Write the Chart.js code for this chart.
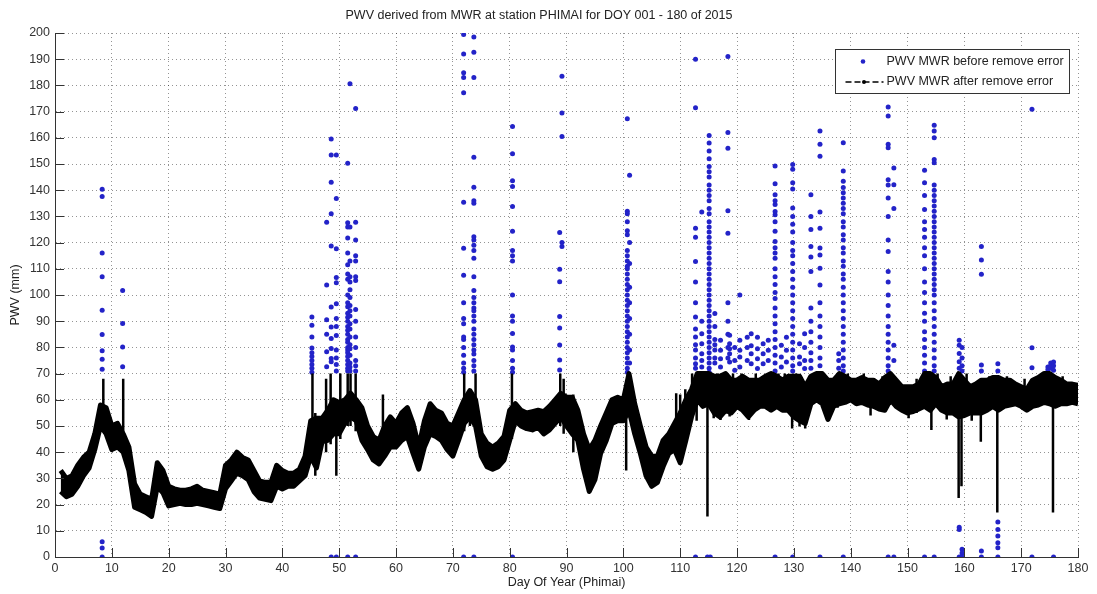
<!DOCTYPE html>
<html>
<head>
<meta charset="utf-8">
<title>PWV MWR PHIMAI</title>
<script src="https://cdn.jsdelivr.net/npm/chart.js@4.4.1/dist/chart.umd.min.js"></script>
<style>
  html, body { margin: 0; padding: 0; background: #fff; }
  #wrap { width: 1097px; height: 594px; }
</style>
</head>
<body>
<div id="wrap"><canvas id="pwv" width="1097" height="594"></canvas></div>
<script>
// PWV after error removal: lower / upper edge of the black band, one value per day (day 1 .. 180)
const firstDay = 1;
const bandLow = [
  25, 23, 24, 27, 31, 34, 41, 50, 47, 41,
  42, 40, 33, 19, 18, 17, 15.5, 27, 24.5, 19.5,
  20, 20.5, 20, 20, 20.5, 20, 19.5, 19, 18.5, 26,
  29, 32, 31, 29.5, 25, 22.5, 22, 21.5, 27, 26,
  27, 27, 29, 31, 38.5, 34, 44, 44.5, 47, 47,
  51, 53.5, 52, 44.5, 41, 37, 35.5, 38.5, 42, 42,
  44.5, 46, 39.5, 33.5, 42, 47, 46, 44.5, 41, 38.5,
  44.5, 51, 53.5, 50, 38.5, 34.5, 33.5, 34.5, 37, 44.5,
  52, 50, 49, 48.5, 49.5, 47, 48.5, 51, 53.5, 50,
  47, 44.5, 33.5, 25, 29.5, 39.5, 44.5, 51, 52, 52,
  56, 47, 39.5, 31, 27, 28.5, 34.5, 39.5, 41, 36,
  44.5, 53.5, 60, 57.5, 58.5, 55, 53.5, 56, 55, 57.5,
  56, 53.5, 56, 57.5, 57.5, 56, 57.5, 56, 56, 53.5,
  52, 51, 58.5, 60, 58.5, 52.5, 57.5, 58.5, 59, 60,
  58.5, 59, 58, 57.5, 56.5, 56, 60, 57.5, 56, 55,
  55.5, 56.5, 57.5, 56, 58.5, 56, 55, 55, 53.5, 54,
  55, 55, 55, 56, 57.5, 56, 57.5, 58, 58.5, 57.5,
  56, 57.5, 58, 59, 58.5, 57.5, 58.5, 58.5, 59, 58.5
];
const bandHigh = [
  33, 30, 31, 35, 38, 40, 47, 58, 57, 50,
  51, 47, 42, 28, 24, 23, 22, 36, 33, 27,
  26, 25.5, 25.5, 26, 27, 25.5, 25, 24.5, 24, 35,
  37, 40, 38, 37, 33, 29, 28.5, 28.5, 35, 33,
  32, 32, 33.5, 38.5, 52, 53, 53, 56, 60, 59,
  60, 62.5, 60, 57, 50, 46, 44.5, 50, 53.5, 51,
  55, 57, 51, 42, 52, 58.5, 56, 55, 51, 50,
  55, 60, 63.5, 60, 47, 43.5, 42, 43.5, 46, 56,
  58.5, 56, 55, 55.5, 56, 55.5, 57.5, 60, 62.5, 61,
  61, 56, 47, 41, 44.5, 50, 55, 60, 61, 60,
  70, 58.5, 50, 42, 38.5, 38.5, 44.5, 47, 51, 55,
  60, 64, 70, 70, 70, 69, 69, 70, 67.5, 67.5,
  69, 67.5, 67.5, 67.5, 69, 70, 69, 67.5, 69, 69,
  69, 65, 69, 70, 70, 67.5, 67.5, 70, 69, 67.5,
  67.5, 68.5, 67.5, 67.5, 66, 68.5, 70, 67.5, 65, 65,
  65, 66, 70, 70, 68.5, 65, 66, 66, 70, 67.5,
  65, 66, 67.5, 67.5, 68.5, 68.5, 67.5, 67.5, 66, 65,
  64, 67.5, 68.5, 70, 70, 68.5, 67.5, 66, 66, 65.5
];

// short vertical excursions of the black series (day, lowest, highest)
const spikeDays = [
  8.5, 12.0, 45.3, 45.8, 47.7, 48.5, 49.5, 50.2, 51.5, 52.0, 52.9, 57.7, 72.0, 73.0, 74.0, 80.4,
  88.9, 89.5, 91.2, 100.5, 101.0, 109.3, 110.0, 110.9, 112.1, 112.9, 113.5, 114.8, 115.9, 116.6,
  117.1, 118.7, 119.3, 120.8, 122.1, 123.3, 125.9, 127.3, 128.4, 129.7, 130.4, 131.0, 132.0, 133.7,
  135.3, 136.0, 137.7, 139.5, 142.3, 143.5, 145.6, 146.9, 150.2, 151.6, 154.2, 155.3, 156.9, 157.6,
  159.0, 159.5, 160.4, 161.3, 162.9, 164.4, 165.8, 167.5, 170.6, 173.8, 175.6, 177.3
];
const spikeLows = [
  50, 45, 38, 31, 40, 43, 31, 45, 50, 50, 48, 45, 48, 50, 48, 45,
  50, 47, 40, 33, 55, 44.5, 42, 45, 54, 52, 58, 15.5, 53, 55,
  52.3, 53.6, 56, 57, 52.3, 57, 57, 57, 56, 49, 55, 49.8, 49, 59,
  58, 52, 57, 59, 59, 54, 56, 58, 53, 55, 48.5, 57, 52.5, 55,
  22.5, 27, 54, 52, 44, 56, 17, 57, 57, 58, 17, 58
];
const spikeHighs = [
  68, 68, 70, 55, 68, 70, 60, 70, 70, 70, 70, 62, 70, 63, 70, 70,
  70, 68, 62, 56, 70, 62.5, 62, 64, 70, 64, 70, 60, 68, 70,
  66, 66, 70, 70, 66, 70, 70, 70, 70, 60, 70, 64, 64, 70,
  70, 60, 70, 70, 70, 64, 69, 70, 63, 68, 60, 70, 63, 69,
  60, 60, 70, 63, 60, 69, 60, 69, 68, 70, 60, 69
];

// PWV before error removal: samples outside the accepted band, grouped per day [day, values...]
const blueColumns = [
  [8.3, 140.4, 137.6, 116, 107, 94.2, 84.9, 78.7, 75.5, 71.7, 5.8, 3.4, 0],
  [11.9, 101.7, 89.1, 80.2, 72.6],
  [45.2, 91.6, 88.5, 84, 79.8, 78, 76.5, 75, 73.5, 72, 70.5],
  [47.8, 127.8, 103.8, 90.6, 85, 78.3, 72.6],
  [48.6, 159.5, 153.4, 143, 131, 118.7, 95.4, 87.8, 83.4, 79.6, 75.8, 74.5, 0],
  [49.5, 153.4, 136.8, 117.7, 106.7, 104.7, 96.7, 91, 88, 84.5, 79, 76, 73.5, 71, 0],
  [51.5, 150.3, 127.6, 126, 121.8, 116, 111.5, 108, 106, 100, 97, 95.5, 93, 91.5, 90, 88, 86.5, 85, 83, 82, 80, 79, 78, 76.5, 75, 73.5, 72, 71, 0],
  [51.9, 180.6, 126, 113, 107, 105, 102, 99, 96, 94, 92, 89, 87, 84, 81, 79.5, 77, 74, 72.5, 71],
  [52.9, 171.2, 127.8, 121, 115, 113, 107, 105.5, 94.5, 90, 84, 80, 75, 73, 71, 0],
  [71.9, 199.4, 192, 184.8, 183, 177.2, 135.4, 117.8, 107.5, 97, 91, 89, 84, 83, 80, 77, 74, 72, 70.5, 0],
  [73.7, 198.5, 192.7, 183, 152.6, 141.1, 136, 135, 122.2, 121, 119, 117, 114, 107, 101.7, 99, 97, 95, 94, 92, 90, 87, 85, 83, 81, 79, 77.5, 75, 73, 71, 0],
  [80.5, 164.3, 153.9, 143.6, 141.4, 133.8, 124.3, 117, 115, 113, 100, 92, 90, 85.3, 80.2, 79, 75, 72, 70.5, 0],
  [88.8, 123.9, 109.8, 105.1, 91.8, 87.4, 80.9, 75.2, 71.4],
  [89.2, 183.5, 169.5, 160.5, 120, 118.5],
  [100.7, 167.3, 132, 131, 128, 124.5, 123, 117, 115, 113, 111, 110, 108, 106, 104, 102, 100, 98, 96, 94, 92, 90, 88, 86, 84, 82, 80, 78, 76, 74, 72, 70.5],
  [101.1, 145.7, 120, 112, 103, 97, 91, 85, 79, 74],
  [112.7, 190, 171.5, 125.5, 122, 112.8, 105, 97, 91.6, 87, 84, 81, 79, 76, 73.8, 72, 0],
  [113.8, 131.7, 90, 85.2, 81.4, 77.6, 75, 72.5],
  [114.8, 0],
  [115.1, 160.9, 158, 155, 152, 149, 147, 145, 142, 140, 138, 136, 133, 131, 128, 126, 124, 122, 120, 118, 116, 114, 112, 110, 108, 106, 104, 102, 100, 98, 96, 94, 92, 90, 88, 86, 84, 82, 80, 78, 76, 74, 72, 70.5],
  [115.3, 0],
  [116.1, 92.9, 88, 83, 81, 79, 76, 74],
  [117.1, 82.7, 78.9, 75.7, 72.5],
  [118.4, 191, 162, 156, 132.2, 123.6, 97, 90, 85, 80, 76],
  [118.7, 84.6, 81.4, 79.5, 77.6, 74.4],
  [119.6, 80, 75, 71.3],
  [120.5, 100, 82.7, 78.9, 76.3, 72.5],
  [121.8, 83.9, 80, 75],
  [122.5, 85.2, 80.6, 77.6, 73.8],
  [123.6, 83.9, 79.5, 75.7, 71.9],
  [124.6, 81.4, 77.6, 73.8],
  [125.5, 82.7, 78.9, 75],
  [126.7, 149.2, 142.5, 138.3, 136, 134.5, 131.9, 130.6, 128, 124.3, 120.4, 118, 116, 114, 110, 107, 104, 101, 98.7, 95, 92, 89, 86, 83, 80, 77, 74, 71, 0],
  [127.8, 80.8, 76.3, 72.5],
  [128.7, 83.9, 78.9, 74.4],
  [129.8, 149.8, 148, 142.8, 140.5, 133.2, 130, 127, 124, 120, 117, 115, 112, 109, 106, 103, 100, 97, 94, 91, 88, 85, 82, 79, 76, 73, 71, 0],
  [131.0, 81.4, 76.3, 73.8],
  [131.9, 85.2, 80, 75, 71.9],
  [133.0, 138.3, 130, 125, 118.5, 114.5, 109, 95, 90, 86, 82, 78, 75, 72],
  [134.6, 162.6, 157.5, 153, 131.7, 125.5, 117.9, 115.3, 110.2, 103.8, 97, 92, 88, 84, 80, 76, 73, 0],
  [137.9, 77.6, 75, 72],
  [138.7, 158.1, 147.3, 143.4, 141, 139, 137, 135, 133, 131, 128, 126, 123, 121, 118, 116, 113, 111, 108, 106, 103, 100, 97, 94, 91, 88, 85, 82, 79, 76, 73, 71, 0],
  [146.6, 171.8, 168.3, 157.5, 156.2, 144, 142, 137, 130, 121, 116.6, 109, 105, 100, 96, 92, 88, 85, 82, 79, 76, 73, 71, 0],
  [147.6, 148.5, 142.1, 133, 80.8, 75, 0],
  [153.0, 147.6, 142.8, 138, 132.6, 128, 125, 122, 118, 115, 110, 105, 101, 97, 93, 90, 86, 83, 80, 77, 74, 71, 0],
  [154.7, 164.8, 162.6, 160, 151.7, 150.5, 142, 140, 138, 136, 134, 132, 130, 128, 126, 124, 122, 120, 118, 116, 114, 112, 110, 108, 106, 104, 102, 100, 97, 94, 91, 88, 85, 82, 79, 76, 73, 71, 0],
  [159.1, 82.7, 80.8, 77.7, 74.5, 72, 11.4, 10.5, 0],
  [159.6, 80, 76, 73, 71, 3, 1.5, 0],
  [163.0, 118.5, 113.4, 107.9, 73.3, 71, 2.3, 0],
  [165.9, 73.8, 71, 13.4, 10.5, 8, 5.4, 3.5, 0],
  [171.9, 170.9, 79.9, 72.2, 0],
  [174.7, 72.5, 71.5],
  [175.2, 74, 73, 72],
  [175.7, 74.4, 73, 71.3, 0]
];

const titleText = 'PWV derived from MWR at station PHIMAI for DOY 001 - 180 of 2015';
const xTitle = 'Day Of Year (Phimai)';
const yTitle = 'PWV (mm)';
const legendLabels = ['PWV MWR before remove error', 'PWV MWR after remove error'];

const FONT = "'Liberation Sans', Arial, sans-serif";
const BLUE = '#2323c8';

// build point lists for the library
const lowPoints = bandLow.map((v, i) => ({ x: firstDay + i, y: v }));
const highPoints = bandHigh.map((v, i) => ({ x: firstDay + i, y: v }));
const spikePoints = [];
spikeDays.forEach((d, i) => {
  spikePoints.push({ x: d, y: spikeLows[i] }, { x: d, y: spikeHighs[i] }, { x: d, y: null });
});
const bluePoints = [];
blueColumns.forEach(col => {
  col.slice(1).forEach(v => bluePoints.push({ x: col[0], y: v }));
});

// tick marks drawn inward, like the original figure
const innerTicks = {
  id: 'innerTicks',
  afterDatasetsDraw(chart) {
    const { ctx, chartArea: a, scales: { x, y } } = chart;
    ctx.save();
    ctx.strokeStyle = '#333';
    ctx.lineWidth = 1;
    ctx.beginPath();
    x.ticks.forEach(t => {
      const px = Math.round(x.getPixelForValue(t.value)) + 0.5;
      ctx.moveTo(px, a.bottom);
      ctx.lineTo(px, a.bottom - 9);
    });
    y.ticks.forEach(t => {
      const py = Math.round(y.getPixelForValue(t.value)) + 0.5;
      ctx.moveTo(a.left, py);
      ctx.lineTo(a.left + 9, py);
    });
    ctx.stroke();
    ctx.restore();
  }
};

// boxed legend in the top right corner of the axes
const boxLegend = {
  id: 'boxLegend',
  afterDraw(chart) {
    const { ctx, chartArea: a } = chart;
    const left = a.right - 242.5, top = a.top + 16.5, w = 234, h = 44;
    ctx.save();
    ctx.fillStyle = '#fff';
    ctx.fillRect(left, top, w, h);
    ctx.strokeStyle = '#333';
    ctx.lineWidth = 1;
    ctx.strokeRect(left, top, w, h);

    const row1 = top + 12, row2 = top + 32.5;
    ctx.fillStyle = BLUE;
    ctx.beginPath();
    ctx.arc(left + 27.5, row1, 2.3, 0, Math.PI * 2);
    ctx.fill();

    ctx.strokeStyle = '#000';
    ctx.lineWidth = 1.5;
    ctx.setLineDash([6, 3]);
    ctx.beginPath();
    ctx.moveTo(left + 10, row2);
    ctx.lineTo(left + 48, row2);
    ctx.stroke();
    ctx.setLineDash([]);
    ctx.fillStyle = '#000';
    ctx.beginPath();
    ctx.arc(left + 28.5, row2, 2, 0, Math.PI * 2);
    ctx.fill();

    ctx.fillStyle = '#222';
    ctx.font = '12.5px ' + FONT;
    ctx.textBaseline = 'middle';
    ctx.textAlign = 'left';
    ctx.fillText(legendLabels[0], left + 51, row1);
    ctx.fillText(legendLabels[1], left + 51, row2);
    ctx.restore();
  }
};

Chart.defaults.font.family = FONT;
Chart.defaults.font.size = 12.5;
Chart.defaults.color = '#222';

new Chart(document.getElementById('pwv'), {
  type: 'line',
  data: {
    datasets: [
      {
        label: 'band low',
        data: lowPoints,
        borderColor: '#000',
        borderWidth: 5,
        borderJoinStyle: 'round',
        pointRadius: 0,
        fill: false,
        tension: 0
      },
      {
        label: legendLabels[1],
        data: highPoints,
        borderColor: '#000',
        backgroundColor: '#000',
        borderWidth: 5,
        borderJoinStyle: 'round',
        pointRadius: 0,
        fill: '-1',
        tension: 0
      },
      {
        label: 'spikes',
        data: spikePoints,
        borderColor: '#000',
        borderWidth: 2.5,
        pointRadius: 0,
        spanGaps: false,
        fill: false
      },
      {
        label: legendLabels[0],
        data: bluePoints,
        showLine: false,
        pointRadius: 2.5,
        pointBorderWidth: 0,
        pointBackgroundColor: BLUE,
        pointBorderColor: BLUE
      }
    ]
  },
  options: {
    responsive: false,
    animation: false,
    devicePixelRatio: 1,
    layout: { padding: { left: 0, right: 19, top: 0, bottom: 0 } },
    plugins: {
      legend: { display: false },
      tooltip: { enabled: false },
      title: {
        display: true,
        text: titleText,
        color: '#222',
        font: { size: 12.5, weight: 'normal' },
        padding: { top: 8, bottom: 10 }
      }
    },
    scales: {
      x: {
        type: 'linear',
        min: 0,
        max: 180,
        ticks: { stepSize: 10, color: '#333', padding: 4, maxRotation: 0 },
        grid: { color: 'rgba(0,0,0,0.42)', lineWidth: 1, drawTicks: false },
        border: { display: true, color: '#333', width: 1, dash: [1, 3] },
        title: { display: true, text: xTitle, color: '#222', padding: { top: 0, bottom: 4 } },
        afterFit(s) { s.height = 37; }
      },
      y: {
        min: 0,
        max: 200,
        ticks: { stepSize: 10, color: '#333', padding: 5 },
        grid: { color: 'rgba(0,0,0,0.42)', lineWidth: 1, drawTicks: false },
        border: { display: true, color: '#333', width: 1, dash: [1, 3] },
        title: { display: true, text: yTitle, color: '#222', padding: { top: 8, bottom: 0 } },
        afterFit(s) { s.width = 55; }
      }
    }
  },
  plugins: [innerTicks, boxLegend]
});
</script>
</body>
</html>
